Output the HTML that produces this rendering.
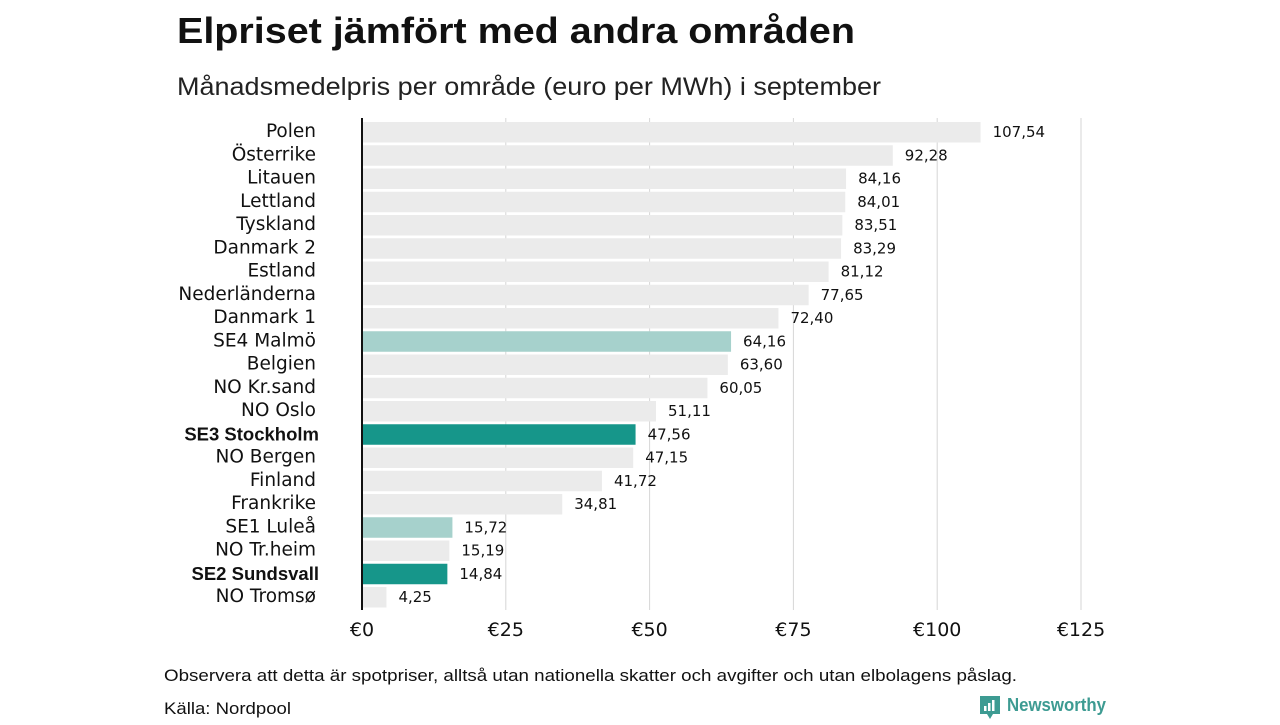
<!DOCTYPE html>
<html><head><meta charset="utf-8"><style>
body{margin:0;background:#fff;width:1280px;height:720px;overflow:hidden;font-family:"Liberation Sans",sans-serif}
</style></head><body>
<svg id="chart" width="1280" height="720">
<text x="177" y="43" font-size="36" font-weight="bold" fill="#111" textLength="678" lengthAdjust="spacingAndGlyphs">Elpriset jämfört med andra områden</text>
<text x="177" y="95" font-size="25" fill="#222" textLength="704" lengthAdjust="spacingAndGlyphs">Månadsmedelpris per område (euro per MWh) i september</text>
<g id="grid"></g><g id="bars"></g><g id="xaxis"></g>
<line x1="362" y1="118" x2="362" y2="610" stroke="#111" stroke-width="2"/>
<text x="164" y="681" font-size="17" fill="#111" textLength="853" lengthAdjust="spacingAndGlyphs">Observera att detta är spotpriser, alltså utan nationella skatter och avgifter och utan elbolagens påslag.</text>
<text x="164" y="714" font-size="17" fill="#111" textLength="127" lengthAdjust="spacingAndGlyphs">Källa: Nordpool</text>
<g>
<path d="M980 696h20v18h-7l-3 5-3-5h-7z" fill="#3d9b92"/>
<rect x="984" y="706" width="2.5" height="5" fill="#fff"/><rect x="988" y="703" width="2.5" height="8" fill="#fff"/><rect x="992" y="700" width="2.5" height="11" fill="#fff"/>
<text x="1007" y="711" font-size="18" font-weight="bold" fill="#3d9b92" textLength="99" lengthAdjust="spacingAndGlyphs">Newsworthy</text>
</g>
</svg>
<script>
const categories=["Polen","Österrike","Litauen","Lettland","Tyskland","Danmark 2","Estland","Nederländerna","Danmark 1","SE4 Malmö","Belgien","NO Kr.sand","NO Oslo","SE3 Stockholm","NO Bergen","Finland","Frankrike","SE1 Luleå","NO Tr.heim","SE2 Sundsvall","NO Tromsø"];
const values=[107.54,92.28,84.16,84.01,83.51,83.29,81.12,77.65,72.40,64.16,63.60,60.05,51.11,47.56,47.15,41.72,34.81,15.72,15.19,14.84,4.25];
const highlightStrong=["SE3 Stockholm","SE2 Sundsvall"];
const highlightLight=["SE4 Malmö","SE1 Luleå"];
const ticks=[0,25,50,75,100,125];
const tickLabels=["€0","€25","€50","€75","€100","€125"];
const NS="http://www.w3.org/2000/svg";
const x=v=>362+v*719/125;
const y=i=>122+i*23.25;
function mk(t,a,p){const e=document.createElementNS(NS,t);for(const k in a)e.setAttribute(k,a[k]);p.appendChild(e);return e;}
const grid=document.getElementById('grid'),bars=document.getElementById('bars'),xa=document.getElementById('xaxis');
ticks.forEach((t,i)=>{
 if(t>0){const l=mk('line',{x1:x(t),x2:x(t),y1:118,y2:610,stroke:'#d6d6d6','stroke-width':1},grid);
 
 }
 const tx=mk('text',{x:x(t),y:636,'font-size':19,fill:'#111','text-anchor':'middle','font-family':'DejaVu Sans, sans-serif'},xa);
 tx.textContent=tickLabels[i];
 
 
});
categories.forEach((c,i)=>{
 const strong=highlightStrong.includes(c),light=highlightLight.includes(c);
 const r=mk('rect',{x:363,y:y(i),width:x(values[i])-363,height:20.5,fill:strong?'#16968a':light?'#a6d1cc':'#ebebeb'},bars);
 
 
 const lb=mk('text',strong?{x:319,y:y(i)+16,'font-size':18.5,'font-weight':'bold',fill:'#111','text-anchor':'end'}:{x:316,y:y(i)+15,'font-size':18.5,fill:'#111','text-anchor':'end','font-family':'DejaVu Sans, sans-serif'},bars);
 lb.textContent=c;
 
 
 const vl=mk('text',{x:x(values[i])+12,y:y(i)+15,'font-size':15,fill:'#111','font-family':'DejaVu Sans, sans-serif'},bars);
 vl.textContent=values[i].toFixed(2).replace('.',',');
 
 
});
</script>
</body></html>
